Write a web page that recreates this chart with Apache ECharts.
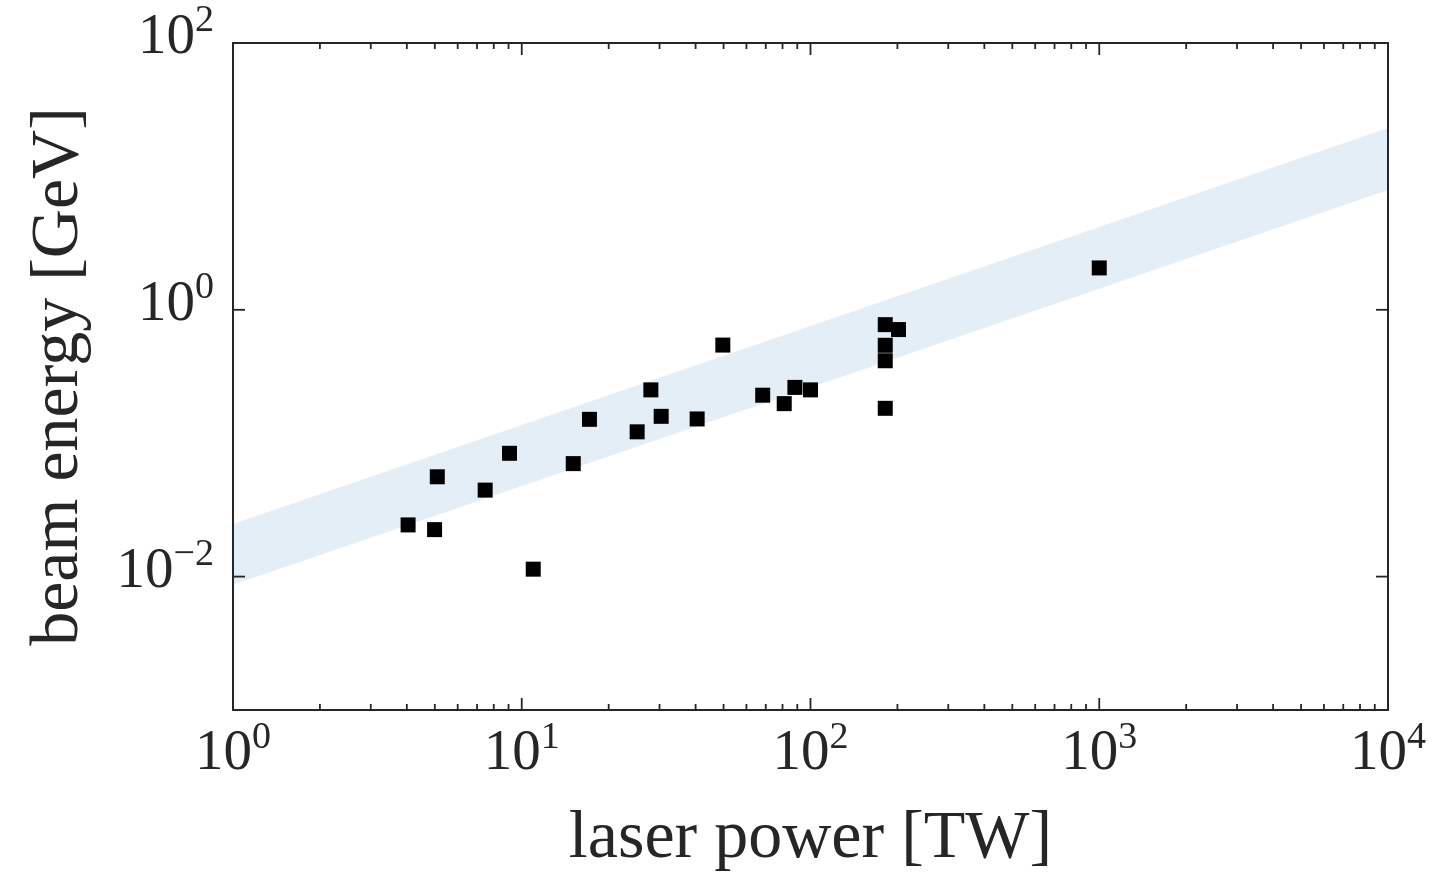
<!DOCTYPE html>
<html>
<head>
<meta charset="utf-8">
<title>beam energy vs laser power</title>
<script src="https://cdn.jsdelivr.net/npm/echarts@6/dist/echarts.min.js"></script>
<style>
  html, body { margin: 0; padding: 0; background: #ffffff; overflow: hidden; }
  #chart { width: 100vw; height: 100vh; }
</style>
</head>
<body>
<div id="chart"></div>
<script>
// Measured laser-plasma accelerator results
const powerTW = [4.04, 4.99, 5.10, 7.47, 9.07, 10.96, 15.08, 17.16, 25.1, 28.0, 30.4, 40.5,
                 49.7, 68.3, 81.1, 88.3, 100, 181.5, 201.7, 181.5, 181.5, 181.5, 1000];
const energyGeV = [0.0244, 0.0225, 0.0560, 0.0445, 0.0840, 0.01137, 0.0703, 0.151, 0.1217, 0.251, 0.159, 0.152,
                   0.544, 0.229, 0.198, 0.262, 0.251, 0.774, 0.711, 0.542, 0.415, 0.1826, 2.06];

// Scaling band (lower / upper bound) at the ends of the power range
const bandPower = [1, 10000];
const bandLow = [0.0087, 7.9];
const bandHigh = [0.0248, 23.1];

// Axis ranges and tick positions
const xRange = [1, 10000];
const yRange = [0.001, 100];
const xMajorTicks = [1, 10, 100, 1000, 10000];
const xMinorSteps = [2, 3, 4, 5, 6, 7, 8, 9];
const xDecades = [1, 10, 100, 1000];
const yMajorTicks = [0.01, 1, 100];

const FONT = '"Liberation Serif", "DejaVu Serif", serif';
const INK = '#262626';
const BAND_COLOR = '#e3eef7';

function powLabel(v) {
  const e = Math.round(Math.log10(v));
  const exp = e < 0 ? '\u2212' + Math.abs(e) : String(e);
  return '{b|10}{s|' + exp + '}';
}
function isIn(list, v) {
  return list.some(t => Math.abs(Math.log10(t) - Math.log10(v)) < 1e-6);
}

const labelRich = {
  b: { fontFamily: FONT, fontSize: 57, lineHeight: 60, color: INK, verticalAlign: 'bottom' },
  s: { fontFamily: FONT, fontSize: 38, lineHeight: 38, color: INK, verticalAlign: 'bottom', padding: [0, 0, 26, 0] }
};

// Tick descriptors: [x, y, kind (0 = x, 1 = y), major]
const tickData = [];
xMajorTicks.forEach(v => tickData.push([v, 1, 0, 1]));
xDecades.forEach(d => xMinorSteps.forEach(s => tickData.push([d * s, 1, 0, 0])));
yMajorTicks.forEach(v => tickData.push([1, v, 1, 1]));

function renderTicks(params, api) {
  const cs = params.coordSys;
  const kind = api.value(2);
  const len = api.value(3) ? 12 : 6;
  const style = { stroke: INK, lineWidth: 1.8 };
  if (kind === 0) {
    const x = api.coord([api.value(0), 1])[0];
    const bottom = cs.y + cs.height;
    return {
      type: 'group',
      children: [
        { type: 'line', shape: { x1: x, y1: bottom, x2: x, y2: bottom - len }, style },
        { type: 'line', shape: { x1: x, y1: cs.y, x2: x, y2: cs.y + len }, style }
      ]
    };
  }
  const y = api.coord([1, api.value(1)])[1];
  const right = cs.x + cs.width;
  return {
    type: 'group',
    children: [
      { type: 'line', shape: { x1: cs.x, y1: y, x2: cs.x + len, y2: y }, style },
      { type: 'line', shape: { x1: right, y1: y, x2: right - len, y2: y }, style }
    ]
  };
}

function renderBand(params, api) {
  if (params.dataIndex !== 0) return { type: 'group', children: [] };
  const upper = bandPower.map((p, i) => api.coord([p, bandHigh[i]]));
  const lower = bandPower.map((p, i) => api.coord([p, bandLow[i]])).reverse();
  return {
    type: 'polygon',
    shape: { points: upper.concat(lower) },
    style: { fill: BAND_COLOR }
  };
}

const axisLine = { show: true, lineStyle: { color: INK, width: 2 } };

const option = {
  backgroundColor: '#ffffff',
  animation: false,
  grid: { left: 233, top: 43, width: 1155, height: 675, containLabel: false },
  xAxis: [
    {
      type: 'log', logBase: 10, min: xRange[0], max: xRange[1], position: 'bottom', z: 10,
      axisLine, axisTick: { show: false }, splitLine: { show: false },
      axisLabel: {
        margin: 13, hideOverlap: false, showMinLabel: true, showMaxLabel: true,
        formatter: v => isIn(xMajorTicks, v) ? powLabel(v) : '', rich: labelRich
      },
      name: 'laser power [TW]', nameLocation: 'middle', nameGap: 95,
      nameTextStyle: { fontFamily: FONT, fontSize: 68, color: INK }
    },
    {
      type: 'log', logBase: 10, min: xRange[0], max: xRange[1], position: 'top', z: 10,
      axisLine, axisTick: { show: false }, axisLabel: { show: false }, splitLine: { show: false }
    }
  ],
  yAxis: [
    {
      type: 'log', logBase: 10, min: yRange[0], max: yRange[1], position: 'left', z: 10,
      axisLine, axisTick: { show: false }, splitLine: { show: false },
      axisLabel: {
        margin: 19, padding: [0, 0, 13, 0], hideOverlap: false, showMinLabel: true, showMaxLabel: true,
        formatter: v => isIn(yMajorTicks, v) ? powLabel(v) : '', rich: labelRich
      },
      name: 'beam energy [GeV]', nameLocation: 'middle', nameGap: 140,
      nameTextStyle: { fontFamily: FONT, fontSize: 68, color: INK }
    },
    {
      type: 'log', logBase: 10, min: yRange[0], max: yRange[1], position: 'right', z: 10,
      axisLine, axisTick: { show: false }, axisLabel: { show: false }, splitLine: { show: false }
    }
  ],
  series: [
    {
      name: 'scaling band',
      type: 'custom',
      z: 1,
      silent: true,
      renderItem: renderBand,
      encode: { x: 0, y: [1, 2] },
      data: bandPower.map((p, i) => [p, bandLow[i], bandHigh[i]])
    },
    {
      name: 'experiments',
      type: 'scatter',
      z: 3,
      symbol: 'rect',
      symbolSize: 15,
      itemStyle: { color: '#000000', opacity: 1 },
      data: powerTW.map((p, i) => [p, energyGeV[i]])
    },
    {
      name: 'ticks',
      type: 'custom',
      z: 12,
      silent: true,
      clip: false,
      renderItem: renderTicks,
      encode: { x: 0, y: 1 },
      data: tickData
    }
  ]
};

const chart = echarts.init(document.getElementById('chart'), null, { renderer: 'canvas' });
chart.setOption(option);
</script>
</body>
</html>
